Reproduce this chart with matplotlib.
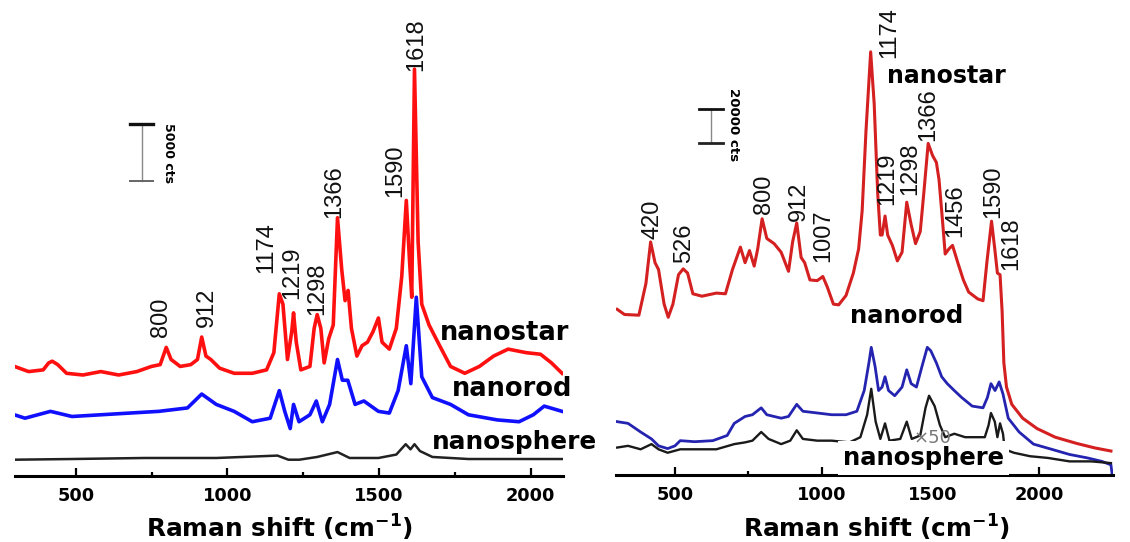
import matplotlib
matplotlib.use("Agg")
import matplotlib.pyplot as plt
from matplotlib.ticker import FixedLocator, FixedFormatter

plt.rcParams['font.family'] = ['DejaVu Sans']
plt.rcParams['font.weight'] = 'bold'

# ---------------- LEFT PANEL DATA (Raman shift in cm-1, intensity in cts, as drawn) ----------
L_star_x = [297, 344, 392, 410, 422, 440, 469, 523, 582, 641, 701, 749, 778, 798, 814, 844, 879,
            901, 915, 929, 945, 974, 1022, 1082, 1129, 1153, 1171, 1183, 1198, 1212, 1218, 1227,
            1242, 1272, 1286, 1296, 1308, 1319, 1334, 1349, 1363, 1377, 1388, 1398, 1409, 1427,
            1444, 1462, 1480, 1498, 1510, 1534, 1557, 1575, 1590, 1601, 1608, 1617, 1629, 1641,
            1665, 1700, 1736, 1783, 1831, 1878, 1926, 1985, 2033, 2069, 2104]
L_star_y = [9614, 9160, 9310, 9920, 10070, 9770, 9010, 8860, 9160, 8860, 9160, 9610, 9770, 11280,
            10220, 9610, 9770, 10220, 12190, 10520, 10220, 9460, 9010, 9010, 9310, 10820, 15980,
            15070, 10220, 12650, 14310, 11740, 9310, 9610, 12950, 14160, 12950, 9920, 12040, 13250,
            22650, 18100, 15380, 16280, 12950, 10520, 11430, 11740, 12650, 13860, 11740, 11130,
            12950, 17500, 24170, 18710, 15680, 35690, 20530, 15070, 13250, 11430, 9610, 9010, 9610,
            10520, 11130, 10820, 10680, 9920, 9010]

L_rod_x = [297, 332, 416, 487, 582, 677, 773, 868, 915, 963, 1022, 1082, 1141, 1171, 1189, 1207,
           1218, 1236, 1272, 1293, 1313, 1337, 1363, 1379, 1397, 1421, 1450, 1498, 1534, 1563,
           1590, 1605, 1623, 1641, 1676, 1736, 1795, 1890, 1962, 2009, 2045, 2104]
L_rod_y = [5370, 5070, 5670, 5220, 5370, 5520, 5670, 5970, 7190, 6280, 5670, 4760, 5070, 7490,
           5670, 4160, 6280, 4760, 5370, 6580, 4760, 6280, 10220, 8400, 8400, 6280, 6580, 5670,
           5520, 7490, 11430, 8100, 15680, 8700, 6880, 6280, 5370, 4920, 4760, 5370, 6130, 5670]

L_sph_x = [297, 487, 725, 963, 1165, 1201, 1237, 1296, 1363, 1403, 1498, 1557, 1588, 1604, 1617,
           1635, 1676, 1795, 2104]
L_sph_y = [1430, 1490, 1580, 1580, 1790, 1430, 1430, 1670, 2100, 1580, 1580, 1880, 2790, 2340,
           2790, 2190, 1670, 1490, 1490]

L_peak_labels = ['800', '912', '1174', '1219', '1298', '1366', '1590', '1618']
L_peak_lab_x = [780, 932, 1127, 1213, 1295, 1351, 1553, 1622]
L_peak_lab_y = [12190, 13070, 17810, 15530, 14120, 22630, 24470, 35530]

L_scale_cts = 5000
L_scale_x = 717
L_scale_y0 = 25880

# ---------------- RIGHT PANEL DATA ----------
R_star_x = [303, 328, 377, 401, 417, 432, 444, 463, 477, 493, 512, 528, 543, 561, 592, 641, 672,
            696, 723, 739, 754, 770, 782, 797, 813, 838, 862, 887, 901, 915, 930, 942, 960, 985,
            1004, 1019, 1040, 1058, 1083, 1108, 1126, 1138, 1151, 1167, 1179, 1191, 1200, 1206,
            1216, 1225, 1241, 1258, 1274, 1290, 1305, 1320, 1336, 1348, 1363, 1378, 1391, 1400,
            1413, 1421, 1434, 1446, 1464, 1483, 1501, 1532, 1550, 1563, 1579, 1590, 1599, 1608,
            1615, 1621, 1630, 1648, 1685, 1734, 1796, 1869, 1931, 1986]
R_star_y = [97460, 94410, 94000, 112700, 137100, 124900, 120850, 100500, 92780, 100500, 117800,
            121240, 118800, 106600, 105180, 107010, 106600, 120850, 134050, 124900, 132020,
            122870, 133030, 150720, 139140, 136090, 131000, 119820, 137100, 148280, 127950,
            124900, 114740, 114330, 116770, 110670, 100500, 100100, 105590, 118800, 133030,
            155400, 202160, 248920, 218420, 165560, 141160, 141160, 152350, 141160, 135070,
            125920, 131000, 160480, 147270, 136090, 143200, 165560, 195040, 187930, 183860,
            173700, 147270, 129990, 133030, 135070, 124900, 114740, 107620, 103560, 102540,
            124900, 149300, 133030, 118800, 117790, 96440, 65950, 51720, 41560, 33420, 27320,
            22240, 18580, 15930, 14100]

R_rod_x = [303, 340, 383, 420, 444, 475, 500, 518, 567, 629, 678, 702, 739, 764, 794, 813, 862,
           887, 915, 936, 985, 1034, 1083, 1120, 1145, 1161, 1169, 1182, 1194, 1206, 1216, 1228,
           1249, 1274, 1290, 1305, 1323, 1342, 1360, 1372, 1391, 1409, 1428, 1452, 1477, 1513,
           1550, 1565, 1577, 1591, 1605, 1618, 1636, 1673, 1722, 1784, 1845, 1906, 1955, 1986,
           1990]
R_rod_y = [31380, 30370, 25290, 21220, 17150, 15530, 17150, 20200, 19590, 20200, 23250, 30370,
           34430, 35450, 39520, 35450, 33420, 34430, 41560, 37490, 36480, 35450, 35450, 37490,
           49680, 65950, 75100, 63920, 49680, 51720, 57810, 49680, 46630, 51720, 61880, 53750,
           51720, 63920, 75100, 73060, 65950, 57810, 53750, 49680, 45620, 40530, 39520, 45620,
           53750, 49680, 54760, 47650, 33420, 25290, 18170, 15120, 12070, 10040, 8010, 5970, 480]

R_sph_x = [303, 340, 383, 420, 444, 475, 518, 567, 641, 702, 739, 764, 794, 819, 862, 893, 915,
           936, 985, 1034, 1095, 1132, 1155, 1169, 1184, 1200, 1216, 1231, 1268, 1290, 1307, 1336,
           1354, 1366, 1385, 1403, 1421, 1452, 1489, 1526, 1556, 1569, 1577, 1590, 1599, 1608,
           1618, 1624, 1655, 1710, 1771, 1845, 1919, 1986]
R_sph_y = [16140, 17150, 15120, 18170, 15120, 13090, 15120, 15120, 15120, 18170, 19190, 20200,
           25290, 21220, 18170, 20200, 26300, 21220, 20200, 20200, 19190, 22240, 35450, 50700,
           31380, 21220, 30370, 20200, 21220, 31380, 21220, 23250, 39520, 46630, 40530, 29350,
           22240, 24270, 22240, 22240, 22240, 29350, 36480, 31380, 22240, 30370, 24270, 15120,
           13090, 11050, 10040, 8010, 8010, 7000]

R_peak_labels = ['420', '526', '800', '912', '1007', '1174', '1219', '1298', '1366', '1456',
                 '1590', '1618']
R_peak_lab_x = [425, 531, 803, 923, 1005, 1230, 1223, 1301, 1363, 1455, 1584, 1646]
R_peak_lab_y = [139100, 124700, 153500, 149400, 125300, 245300, 158800, 164700, 196500,
                140000, 151200, 120600]

R_scale_cts = 20000
R_scale_x = 623
R_scale_y0 = 195300

x_ticks_left = [500, 1000, 1500, 2000]
x_ticklabels_left = ['500', '1000', '1500', '2000']
x_minor_left = [750, 1250, 1750]
# tick labels as printed (positions as they appear on the original axis)
x_ticks_right = [500, 1000, 1380, 1741]
x_ticklabels_right = ['500', '1000', '1500', '2000']
x_minor_right = [750]

W, H = 1130, 542
fig = plt.figure(figsize=(W / 100, H / 100), dpi=100)

axL = fig.add_axes([15 / W, (H - 476) / H, 548 / W, 476 / H])
axR = fig.add_axes([616 / W, (H - 475) / H, 497 / W, 475 / H])
axL.set_xlim(299, 2107)
axL.set_ylim(0, 41754)
axR.set_xlim(299, 1993)
axR.set_ylim(0, 279412)

peak_font = ['Liberation Sans Narrow', 'Liberation Sans', 'DejaVu Sans']

for ax in (axL, axR):
    for s in ('left', 'right', 'top'):
        ax.spines[s].set_visible(False)
    ax.spines['bottom'].set_linewidth(2.2)
    ax.set_yticks([])
    ax.patch.set_alpha(0)
    ax.tick_params(axis='x', which='major', direction='in', length=6, width=1.6,
                   pad=8, labelsize=12.8)
    ax.tick_params(axis='x', which='minor', direction='in', length=3, width=1.6)

axL.xaxis.set_major_locator(FixedLocator(x_ticks_left))
axL.xaxis.set_major_formatter(FixedFormatter(x_ticklabels_left))
axL.xaxis.set_minor_locator(FixedLocator(x_minor_left))
axR.xaxis.set_major_locator(FixedLocator(x_ticks_right))
axR.xaxis.set_major_formatter(FixedFormatter(x_ticklabels_right))
axR.xaxis.set_minor_locator(FixedLocator(x_minor_right))
for ax in (axL, axR):
    for lab in ax.get_xticklabels():
        lab.set_fontweight('bold')

xlabel = r'Raman shift (cm$^{\mathbf{-1}}$)'
axL.set_xlabel(xlabel, fontsize=17.8, fontweight='bold', va='center')
axL.xaxis.set_label_coords(0.4836, -0.109)
axR.set_xlabel(xlabel, fontsize=17.8, fontweight='bold', va='center')
axR.xaxis.set_label_coords(0.524, -0.1116)

# left curves
axL.plot(L_star_x, L_star_y, color='#ff1010', lw=2.6, solid_joinstyle='round')
axL.plot(L_rod_x, L_rod_y, color='#1010ff', lw=2.6, solid_joinstyle='round')
axL.plot(L_sph_x, L_sph_y, color='#222222', lw=1.8)

for t, x, y in zip(L_peak_labels, L_peak_lab_x, L_peak_lab_y):
    axL.text(x, y, t, rotation=90, ha='center', va='bottom', fontsize=17,
             fontweight='normal', family=peak_font, color='#111111')

axL.text(1701, 12540, 'nanostar', fontsize=18.5, fontweight='bold', ha='left', va='center',
         clip_on=False)
axL.text(1741, 7630, 'nanorod', fontsize=18.5, fontweight='bold', ha='left', va='center',
         clip_on=False)
axL.text(1675, 2980, 'nanosphere', fontsize=17.8, fontweight='bold', ha='left', va='center',
         clip_on=False)

# left scale bar
capL = 38
axL.plot([L_scale_x, L_scale_x], [L_scale_y0, L_scale_y0 + L_scale_cts], color='#888888', lw=1)
axL.plot([L_scale_x - capL, L_scale_x + capL], [L_scale_y0 + L_scale_cts] * 2, color='#111111', lw=2.4)
axL.plot([L_scale_x - capL, L_scale_x + capL], [L_scale_y0] * 2, color='#666666', lw=1.4)
axL.text(807, 28330, '5000 cts', rotation=270, ha='center', va='center', fontsize=9,
         fontweight='bold')

# right curves
axR.plot(R_star_x, R_star_y, color='#d42020', lw=2.2, solid_joinstyle='round')
axR.plot(R_rod_x, R_rod_y, color='#2424b0', lw=2.0, solid_joinstyle='round')
axR.plot(R_sph_x, R_sph_y, color='#1a1a1a', lw=1.7, solid_joinstyle='round')

for t, x, y in zip(R_peak_labels, R_peak_lab_x, R_peak_lab_y):
    axR.text(x, y, t, rotation=90, ha='center', va='bottom', fontsize=17,
             fontweight='normal', family=peak_font, color='#111111')

axR.text(1223, 234700, 'nanostar', fontsize=17, fontweight='bold', ha='left', va='center')
axR.text(1097, 93500, 'nanorod', fontsize=17.5, fontweight='bold', ha='left', va='center')
axR.text(1073, 10000, 'nanosphere', fontsize=17.5, fontweight='bold', ha='left', va='center',
         clip_on=False, zorder=5,
         bbox=dict(boxstyle='square,pad=0.2', facecolor='white', edgecolor='none'))
axR.text(1376, 21500, '×50', fontsize=13, fontweight='normal', color='#777777',
         ha='center', va='center', zorder=6)

# right scale bar
capR = 41
axR.plot([R_scale_x, R_scale_x], [R_scale_y0, R_scale_y0 + R_scale_cts], color='#888888', lw=1)
axR.plot([R_scale_x - capR, R_scale_x + capR], [R_scale_y0 + R_scale_cts] * 2, color='#111111', lw=2.0)
axR.plot([R_scale_x - capR, R_scale_x + capR], [R_scale_y0] * 2, color='#222222', lw=2.0)
axR.text(698, 205900, '20000 cts', rotation=270, ha='center', va='center', fontsize=9.6,
         fontweight='bold')

fig.savefig('out.png', dpi=100)
